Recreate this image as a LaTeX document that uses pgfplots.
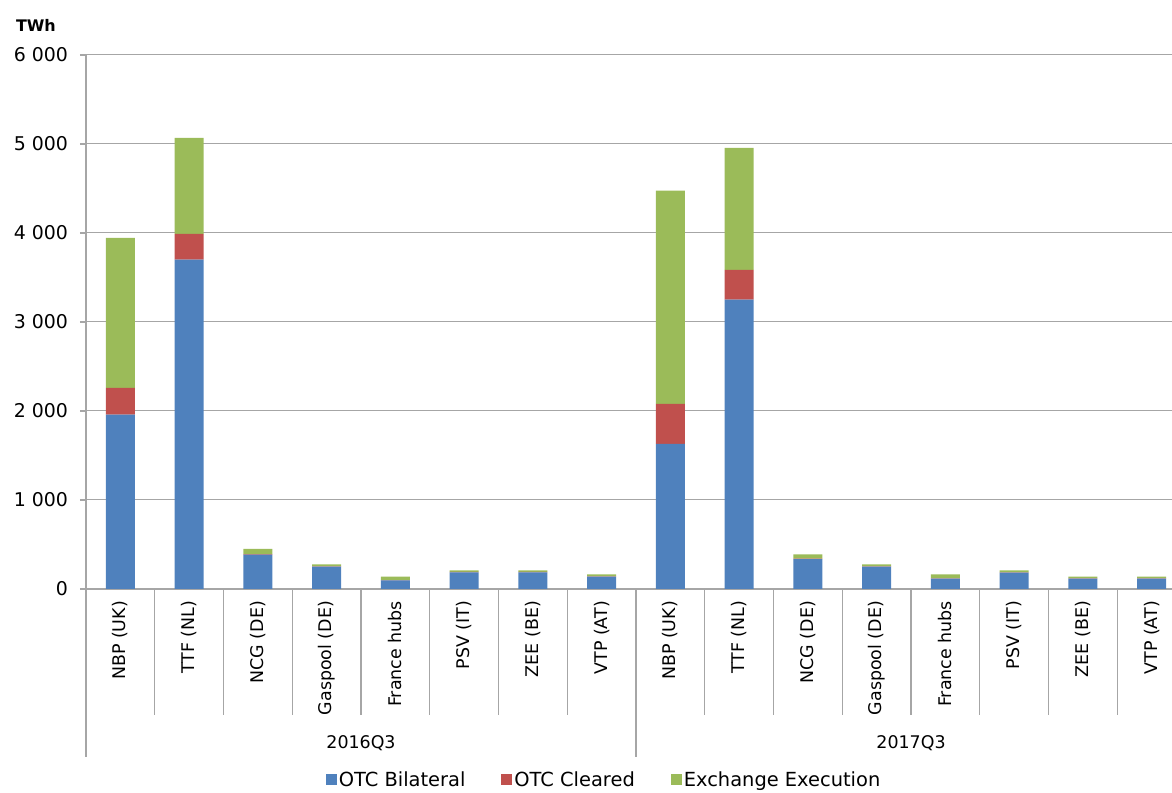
\documentclass[border=0pt]{standalone}
\usepackage{pgfplots}
\pgfplotsset{compat=1.18}
\usepackage{pgfplotstable}
\usepackage{fontspec}
\setmainfont{DejaVu Sans}
\definecolor{cblue}{HTML}{4F81BD}
\definecolor{cred}{HTML}{C0504D}
\definecolor{cgreen}{HTML}{9BBB59}
\definecolor{gridgray}{HTML}{A6A6A6}
\pgfplotstableread{
x bil clr exe
0 1960 300 1685
1 3700 290 1080
2 386 5 60
3 251 3 23
4 98 3 38
5 188 3 19
6 188 3 19
7 139 3 23
8 1630 450 2395
9 3250 336 1371
10 337 5 48
11 251 3 23
12 116 3 46
13 184 3 23
14 116 3 20
15 116 3 20
}\datatable
\begin{document}
\fontsize{17.5}{21}\selectfont
\begin{tikzpicture}
\begin{axis}[
  name=ax,
  scale only axis,
  width=1086bp, height=534bp,
  ybar stacked, bar width=29bp, bar shift=0pt,
  xmin=-0.5, xmax=15.296,
  ymin=0, ymax=6000,
  axis lines=left,
  axis line style={-, draw=gridgray, line width=1.3pt},
  tick align=outside,
  major tick length=6bp,
  ytick={0,1000,2000,3000,4000,5000,6000},
  yticklabels={0,1 000,2 000,3 000,4 000,5 000,6 000},
  ytick style={draw=gridgray, line width=1.3pt},
  yticklabel style={font=\fontsize{19}{22}\selectfont, xshift=-6bp},
  ymajorgrids,
  major grid style={draw=gridgray, line width=1pt},
  xtick={0,...,15},
  xticklabels={NBP (UK),TTF (NL),NCG (DE),Gaspool (DE),France hubs,PSV (IT),ZEE (BE),VTP (AT),NBP (UK),TTF (NL),NCG (DE),Gaspool (DE),France hubs,PSV (IT),ZEE (BE),VTP (AT)},
  xticklabel style={rotate=90, anchor=east, font=\fontsize{17.5}{21}\selectfont},
  xtick style={draw=none},
  extra x ticks={0.5,1.5,2.5,3.5,4.5,5.5,6.5,8.5,9.5,10.5,11.5,12.5,13.5,14.5},
  extra x tick labels={},
  extra x tick style={major tick length=126bp, xtick style={draw=gridgray, line width=1.3pt}, grid=none},
  legend columns=3,
  legend style={draw=none, fill=none, at={(0.477,-0.358)}, anchor=center,
    font=\fontsize{19.5}{23}\selectfont,
    /tikz/every even column/.append style={column sep=34bp}},
  legend image code/.code={\fill[#1,draw=none] (0bp,-5bp) rectangle (11bp,6bp);},
  clip=false,
]
\addplot[fill=cblue, draw=none] table[x=x, y=bil] {\datatable};
\addplot[fill=cred, draw=none] table[x=x, y=clr] {\datatable};
\addplot[fill=cgreen, draw=none] table[x=x, y=exe] {\datatable};
\legend{OTC Bilateral, OTC Cleared, Exchange Execution}
\draw[gridgray, line width=1.3pt] (axis cs:-0.5,0) -- ++(0bp,-168bp);
\draw[gridgray, line width=1.3pt] (axis cs:7.5,0) -- ++(0bp,-168bp);
\node[anchor=center] at ([yshift=-154bp]axis cs:3.5,0) {2016Q3};
\node[anchor=center] at ([yshift=-154bp]axis cs:11.5,0) {2017Q3};
\end{axis}
\node[anchor=west, font=\bfseries\fontsize{16}{19}\selectfont] at ([xshift=-76bp, yshift=30bp]ax.north west) {TWh};
\pgfresetboundingbox
\path[use as bounding box] ([xshift=-86bp, yshift=-204bp]ax.south west) rectangle ([yshift=55bp]ax.north east);
\end{tikzpicture}
\end{document}
